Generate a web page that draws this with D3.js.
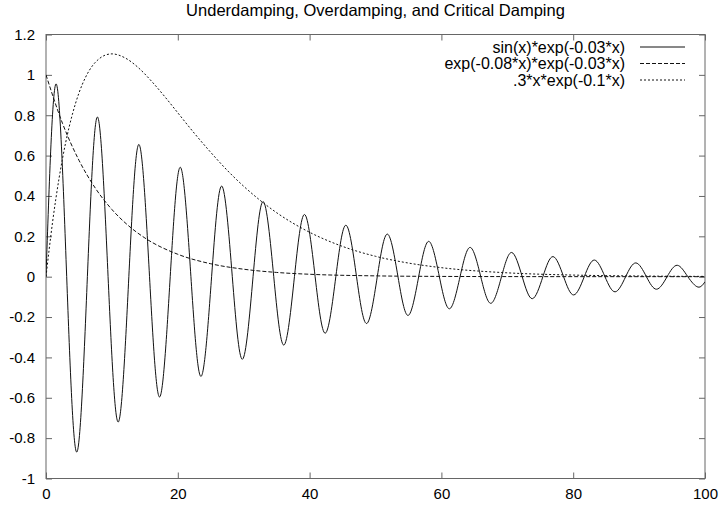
<!DOCTYPE html>
<html lang="en">
<head>
<meta charset="utf-8">
<title>Underdamping, Overdamping, and Critical Damping</title>
<script src="https://cdn.jsdelivr.net/npm/d3@7"></script>
<style>
  body { margin: 0; background: #fff; }
  text { font-family: "Liberation Sans", Arial, sans-serif; fill: #000; }
</style>
</head>
<body>
<script>
// values
var xTicks = [0, 20, 40, 60, 80, 100];
var yTicks = [-1, -0.8, -0.6, -0.4, -0.2, 0, 0.2, 0.4, 0.6, 0.8, 1, 1.2];
var yTickLabels = ["-1", "-0.8", "-0.6", "-0.4", "-0.2", "0", "0.2", "0.4", "0.6", "0.8", "1", "1.2"];
var seriesNames = ["sin(x)*exp(-0.03*x)", "exp(-0.08*x)*exp(-0.03*x)", ".3*x*exp(-0.1*x)"];

// underdamped: zero crossings and peaks
var underX = [0, 1.54, 3.14, 4.68, 6.28, 7.82, 9.42, 10.97, 12.57, 14.11, 15.71, 17.25, 18.85, 20.39,
  21.99, 23.53, 25.13, 26.67, 28.27, 29.81, 31.42, 32.96, 34.56, 36.10, 37.70, 39.24, 40.84, 42.38,
  43.98, 45.52, 47.12, 48.66, 50.27, 51.81, 53.41, 54.95, 56.55, 58.09, 59.69, 61.23, 62.83, 64.37,
  65.97, 67.51, 69.12, 70.66, 72.26, 73.80, 75.40, 76.94, 78.54, 80.08, 81.68, 83.22, 84.82, 86.36,
  87.96, 89.51, 91.11, 92.65, 94.25, 95.79, 97.39, 98.93, 100];
var underY = [0, 0.955, 0, -0.869, 0, 0.791, 0, -0.720, 0, 0.655, 0, -0.596, 0, 0.542,
  0, -0.494, 0, 0.449, 0, -0.409, 0, 0.372, 0, -0.339, 0, 0.308, 0, -0.280,
  0, 0.255, 0, -0.232, 0, 0.211, 0, -0.192, 0, 0.175, 0, -0.159, 0, 0.145,
  0, -0.132, 0, 0.120, 0, -0.109, 0, 0.0995, 0, -0.0905, 0, 0.0824, 0, -0.075,
  0, 0.0682, 0, -0.0621, 0, 0.0565, 0, -0.0514, -0.025];

// overdamped
var overX = [0, 2.5, 5, 7.5, 10, 12.5, 15, 20, 25, 30, 35, 40, 50, 60, 70, 80, 90, 100];
var overY = [1, 0.760, 0.577, 0.438, 0.333, 0.253, 0.192, 0.111, 0.064, 0.037, 0.021, 0.012, 0.004, 0.0013, 0.0005, 0.0002, 0.0001, 0];

// critically damped
var critX = [0, 1, 2, 3, 4, 5, 6, 7, 8, 9, 10, 12, 14, 16, 18, 20, 22.5, 25, 27.5, 30, 35, 40, 45, 50, 55, 60, 70, 80, 90, 100];
var critY = [0, 0.271, 0.491, 0.667, 0.804, 0.910, 0.988, 1.043, 1.078, 1.098, 1.104, 1.084, 1.036, 0.969, 0.893, 0.812,
  0.711, 0.616, 0.527, 0.448, 0.317, 0.220, 0.150, 0.101, 0.0675, 0.0446, 0.0191, 0.008, 0.0033, 0.0014];

var w = 721, h = 508;
var mLeft = 46, mRight = 705, mTop = 34.5, mBottom = 478.5;

var svg = d3.select("body").append("svg").attr("width", w).attr("height", h);

var x = d3.scaleLinear().domain([0, 100]).range([mLeft, mRight]);
var y = d3.scaleLinear().domain([-1, 1.2]).range([mBottom, mTop]);

svg.append("text")
  .attr("x", 375.5).attr("y", 16)
  .attr("text-anchor", "middle")
  .style("font-size", "16.5px")
  .text("Underdamping, Overdamping, and Critical Damping");

// axes with inward ticks, mirrored on all sides
var tk = 6;
var frameColor = "#666";
function styleAxis(g) {
  g.select(".domain").remove();
  g.selectAll("line").attr("stroke", frameColor);
  g.selectAll("text").attr("font-family", null).attr("font-size", null).style("font-size", "15px").attr("fill", "#000");
}
svg.append("g").attr("transform", "translate(0," + mBottom + ")")
  .call(d3.axisBottom(x).tickValues(xTicks).tickSize(-tk).tickPadding(10))
  .call(styleAxis);
svg.append("g").attr("transform", "translate(0," + mTop + ")")
  .call(d3.axisTop(x).tickValues(xTicks).tickSize(-tk).tickFormat(""))
  .call(styleAxis);
svg.append("g").attr("transform", "translate(" + mLeft + ",0)")
  .call(d3.axisLeft(y).tickValues(yTicks).tickSize(-tk).tickPadding(11)
    .tickFormat(function(d, i) { return yTickLabels[i]; }))
  .call(styleAxis);
svg.append("g").attr("transform", "translate(" + mRight + ",0)")
  .call(d3.axisRight(y).tickValues(yTicks).tickSize(-tk).tickFormat(""))
  .call(styleAxis);

svg.append("rect")
  .attr("x", mLeft).attr("y", mTop)
  .attr("width", mRight - mLeft).attr("height", mBottom - mTop)
  .attr("fill", "none").attr("stroke", frameColor).attr("stroke-width", 1);

svg.append("clipPath").attr("id", "plot")
  .append("rect").attr("x", mLeft).attr("y", mTop).attr("width", mRight - mLeft).attr("height", mBottom - mTop);

function pairs(xs, ys) { return xs.map(function(v, i) { return [v, ys[i]]; }); }

var series = [
  { pts: pairs(underX, underY), curve: d3.curveNatural, dash: null },
  { pts: pairs(overX, overY), curve: d3.curveMonotoneX, dash: "4,2" },
  { pts: pairs(critX, critY), curve: d3.curveMonotoneX, dash: "2,2" }
];

var line = d3.line().x(function(d) { return x(d[0]); }).y(function(d) { return y(d[1]); });

svg.append("g").attr("clip-path", "url(#plot)")
  .selectAll("path").data(series).enter().append("path")
  .attr("d", function(d) { return line.curve(d.curve)(d.pts); })
  .attr("fill", "none")
  .attr("stroke", "#111")
  .attr("stroke-width", 1)
  .attr("stroke-dasharray", function(d) { return d.dash; });

// legend
var leg = svg.append("g");
seriesNames.forEach(function(name, i) {
  var yy = 47 + i * 16.5;
  leg.append("text").attr("x", 625).attr("y", yy + 5.5)
    .attr("text-anchor", "end").style("font-size", "16px").text(name);
  leg.append("line").attr("x1", 640).attr("x2", 685)
    .attr("y1", yy).attr("y2", yy)
    .attr("stroke", "#111").attr("stroke-width", 1)
    .attr("stroke-dasharray", series[i].dash);
});
</script>
</body>
</html>
